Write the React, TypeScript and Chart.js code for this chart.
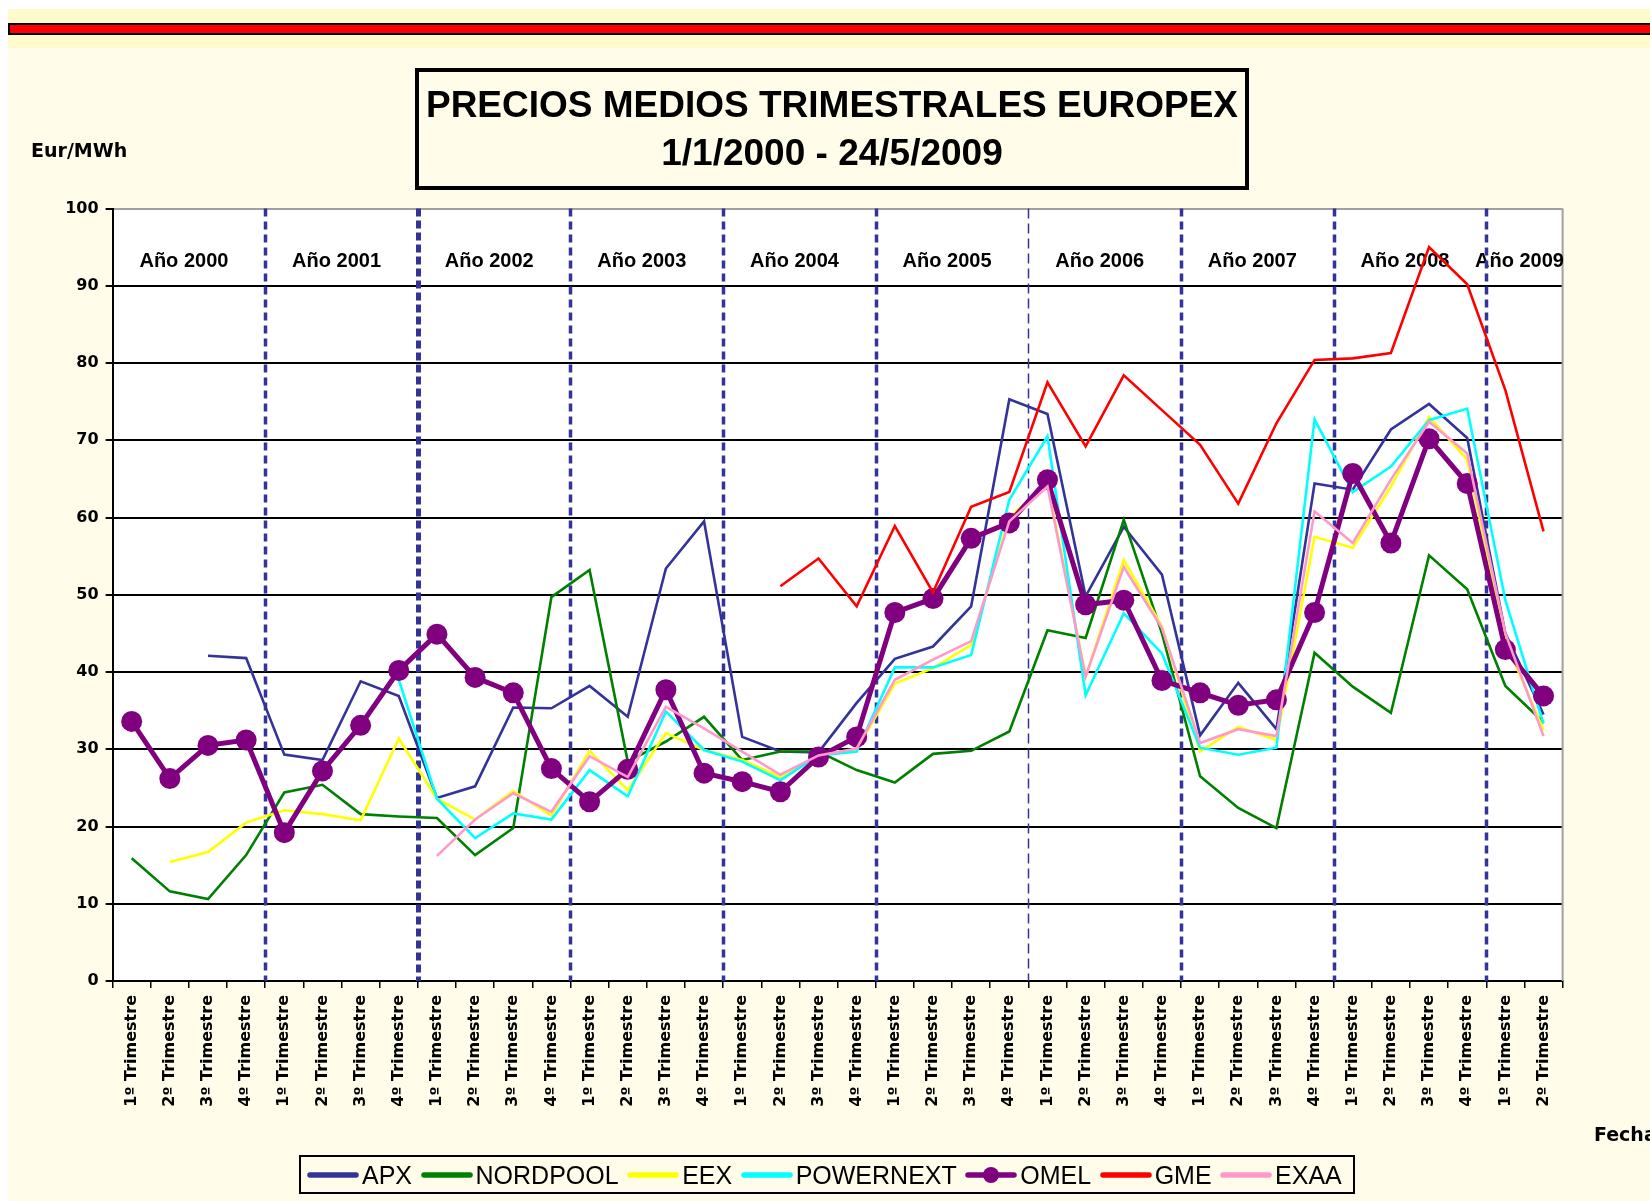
import React, { useEffect, useRef } from "react";
import { Chart, registerables } from "chart.js";

Chart.register(...registerables);

// ---- Data ----
const YEARS = ["Año 2000", "Año 2001", "Año 2002", "Año 2003", "Año 2004", "Año 2005", "Año 2006", "Año 2007", "Año 2008", "Año 2009"];
const QUARTERS_PER_YEAR = [4, 4, 4, 4, 4, 4, 4, 4, 4, 2];
const QUARTER_NAMES = ["1º Trimestre", "2º Trimestre", "3º Trimestre", "4º Trimestre"];
const CATEGORIES = QUARTERS_PER_YEAR.flatMap((n) => QUARTER_NAMES.slice(0, n));

const APX = [null, null, 42.1, 41.8, 29.3, 28.6, 38.8, 36.9, 23.7, 25.2, 35.4, 35.3, 38.2, 34.2, 53.4, 59.5, 31.6, 29.7, 29.6, 36.0, 41.7, 43.3, 48.5, 75.3, 73.4, 49.8, 58.8, 52.6, 31.8, 38.6, 32.6, 64.4, 63.6, 71.4, 74.7, 70.3, 45.0, 34.5];
const NORDPOOL = [15.9, 11.6, 10.6, 16.3, 24.4, 25.4, 21.6, 21.3, 21.1, 16.3, 19.8, 49.7, 53.2, 28.4, 31.0, 34.2, 28.6, 29.7, 29.7, 27.3, 25.7, 29.4, 29.8, 32.3, 45.4, 44.4, 59.7, 45.0, 26.5, 22.4, 19.8, 42.5, 38.1, 34.7, 55.1, 50.7, 38.2, 33.5];
const EEX = [null, 15.4, 16.7, 20.5, 22.1, 21.6, 20.8, 31.4, 23.6, 20.9, 24.6, 21.4, 29.8, 24.7, 32.1, 29.9, 28.6, 26.4, 29.2, 30.0, 38.5, 40.5, 43.5, 60.0, 64.5, 39.4, 54.5, 45.9, 29.7, 32.9, 31.2, 57.5, 56.1, 64.0, 73.0, 67.5, 44.0, 32.5];
const POWERNEXT = [null, null, null, null, null, null, null, 39.0, 23.6, 18.5, 21.7, 20.9, 27.3, 23.9, 34.9, 29.9, 28.4, 26.0, 29.2, 29.7, 40.6, 40.6, 42.2, 62.3, 70.5, 37.0, 47.6, 42.4, 30.2, 29.3, 30.2, 72.7, 63.3, 66.6, 72.6, 74.1, 49.3, 33.3];
const OMEL = [33.6, 26.2, 30.5, 31.2, 19.2, 27.2, 33.1, 40.2, 44.9, 39.3, 37.3, 27.5, 23.2, 27.4, 37.7, 26.9, 25.8, 24.5, 29.0, 31.6, 47.7, 49.5, 57.3, 59.3, 64.9, 48.7, 49.3, 38.9, 37.3, 35.7, 36.4, 47.7, 65.7, 56.7, 70.2, 64.4, 42.9, 36.9];
const GME = [null, null, null, null, null, null, null, null, null, null, null, null, null, null, null, null, null, 51.1, 54.7, 48.5, 58.9, 50.3, 61.4, 63.3, 77.5, 69.2, 78.4, 73.9, 69.4, 61.8, 72.2, 80.4, 80.6, 81.3, 95.0, 90.2, 76.5, 58.2];
const EXAA = [null, null, null, null, null, null, null, null, 16.2, 20.9, 24.3, 21.9, 29.1, 26.4, 35.5, 32.7, 29.7, 26.7, 29.2, 30.1, 39.0, 41.6, 44.0, 59.5, 64.0, 39.4, 53.6, 45.7, 30.8, 32.6, 31.7, 60.8, 56.7, 64.9, 72.4, 68.3, 45.0, 31.7];

const SERIES_NAMES = ["APX", "NORDPOOL", "EEX", "POWERNEXT", "OMEL", "GME", "EXAA"];
const SERIES_VALUES = [APX, NORDPOOL, EEX, POWERNEXT, OMEL, GME, EXAA];

const TITLE_LINES = ["PRECIOS MEDIOS TRIMESTRALES EUROPEX", "1/1/2000 - 24/5/2009"];
const Y_LABEL = "Eur/MWh";
const X_LABEL = "Fecha";

// ---- Styles ----
const SERIES_COLORS = ["#333399", "#008000", "#FFFF00", "#00FFFF", "#800080", "#FF0000", "#FF99CC"];
const YEAR_LINE_COLOR = "#333399";

const decorPlugin = {
  id: "decor",
  beforeDraw(chart: any) {
    const { ctx, chartArea: a } = chart;
    ctx.save();
    ctx.fillStyle = "#FFFFFF";
    ctx.fillRect(a.left, a.top, a.right - a.left, a.bottom - a.top);
    ctx.restore();
  },
  beforeDatasetsDraw(chart: any) {
    const { ctx, chartArea: a } = chart;
    const x = chart.scales.x;
    ctx.save();
    // right border of plot
    ctx.strokeStyle = "#A0A0A0";
    ctx.lineWidth = 2;
    ctx.beginPath();
    ctx.moveTo(a.right, a.top);
    ctx.lineTo(a.right, a.bottom);
    ctx.stroke();

    const step = x.getPixelForValue(1) - x.getPixelForValue(0);
    let start = 0;
    QUARTERS_PER_YEAR.forEach((n, yi) => {
      const left = x.getPixelForValue(start) - step / 2;
      const right = x.getPixelForValue(start + n - 1) + step / 2;
      // year label
      ctx.font = 'bold 20px "Liberation Sans", Arial, sans-serif';
      ctx.fillStyle = "#000";
      ctx.textAlign = "center";
      ctx.textBaseline = "middle";
      ctx.fillText(YEARS[yi], (left + right) / 2 - 5, a.top + 53);
      // boundary line (before this year)
      if (yi > 0) {
        ctx.strokeStyle = YEAR_LINE_COLOR;
        if (yi === 2) {
          ctx.lineWidth = 5;
          ctx.setLineDash([8, 4]);
        } else if (yi === 6) {
          ctx.lineWidth = 1.5;
          ctx.setLineDash([10, 5]);
        } else {
          ctx.lineWidth = 3.5;
          ctx.setLineDash([8, 5]);
        }
        ctx.beginPath();
        ctx.moveTo(Math.round(left) + 0.5, a.top);
        ctx.lineTo(Math.round(left) + 0.5, a.bottom);
        ctx.stroke();
      }
      start += n;
    });
    ctx.restore();
  },
};

const tickFont = { family: '"DejaVu Sans", Verdana, sans-serif', weight: "bold" as const, size: 16 };

export default function App() {
  const ref = useRef<HTMLCanvasElement>(null);

  useEffect(() => {
    if (!ref.current) return;
    const drawOrder = [6, 5, 4, 3, 2, 1, 0];
    const chart = new Chart(ref.current, {
      type: "line",
      data: {
        labels: CATEGORIES,
        datasets: SERIES_NAMES.map((name, i) => {
          const isOmel = name === "OMEL";
          return {
            label: name,
            data: SERIES_VALUES[i] as any,
            borderColor: SERIES_COLORS[i],
            backgroundColor: SERIES_COLORS[i],
            borderWidth: isOmel ? 5 : 2.6,
            pointRadius: isOmel ? 10.5 : 0,
            pointBorderWidth: 0,
            pointBackgroundColor: SERIES_COLORS[i],
            tension: 0,
            spanGaps: false,
            fill: false,
            order: drawOrder[i],
          };
        }),
      },
      options: {
        responsive: false,
        animation: false,
        devicePixelRatio: 1,
        layout: { padding: { left: 0, top: 208.5, right: 87.4, bottom: 70 } },
        plugins: {
          legend: { display: false },
          title: { display: false },
          tooltip: { enabled: false },
        },
        scales: {
          x: {
            type: "category",
            offset: true,
            grid: {
              offset: true,
              drawOnChartArea: false,
              drawTicks: true,
              tickLength: 7,
              color: "#000",
              lineWidth: 1.5,
            },
            border: { display: true, color: "#000", width: 2 },
            ticks: {
              autoSkip: false,
              maxRotation: 90,
              minRotation: 90,
              padding: 7,
              color: "#000",
              font: tickFont,
            },
            afterFit: (s: any) => {
              s.height = 150;
            },
          },
          y: {
            min: 0,
            max: 100,
            ticks: { stepSize: 10, padding: 7, color: "#000", font: tickFont },
            grid: {
              color: (c: any) => (c.tick && c.tick.value === 100 ? "#A0A0A0" : "#000"),
              tickColor: "#000",
              lineWidth: 2,
              tickLength: 7,
              drawTicks: true,
            },
            border: { display: true, color: "#000", width: 2 },
            afterFit: (s: any) => {
              s.width = 112.6;
            },
          },
        },
      },
      plugins: [decorPlugin],
    });
    return () => chart.destroy();
  }, []);

  return (
    <div style={{ position: "absolute", left: 0, top: 0, width: 1650, height: 1201, background: "#FFFFFF", overflow: "hidden" }}>
      <div style={{ position: "absolute", left: 8, top: 9, right: 0, bottom: 0, background: "#FFFDE9" }} />
      <div style={{ position: "absolute", left: 8, top: 9, right: 0, height: 39, background: "#FFFBCC" }} />
      <div style={{ position: "absolute", left: 8, top: 22.5, right: 0, height: 12, background: "#000000" }} />
      <div style={{ position: "absolute", left: 9.5, top: 24.5, right: 0, height: 8, background: "#FF0000" }} />
      <canvas ref={ref} width={1650} height={1201} style={{ position: "absolute", left: 0, top: 0, width: 1650, height: 1201 }} />
      <div
        style={{
          position: "absolute",
          left: 415,
          top: 68,
          width: 834,
          height: 122,
          boxSizing: "border-box",
          border: "4px solid #000",
          paddingTop: 9,
          textAlign: "center",
          fontFamily: '"Liberation Sans", Arial, sans-serif',
          fontWeight: "bold",
          fontSize: 37,
          lineHeight: "48px",
          color: "#000",
        }}
      >
        {TITLE_LINES.map((t) => (
          <div key={t}>{t}</div>
        ))}
      </div>
      <div
        style={{
          position: "absolute",
          left: 31,
          top: 138,
          fontFamily: '"DejaVu Sans", Verdana, sans-serif',
          fontWeight: "bold",
          fontSize: 19,
          lineHeight: "24px",
          color: "#000",
          whiteSpace: "nowrap",
        }}
      >
        {Y_LABEL}
      </div>
      <div
        style={{
          position: "absolute",
          left: 1594,
          top: 1122,
          fontFamily: '"DejaVu Sans", Verdana, sans-serif',
          fontWeight: "bold",
          fontSize: 19,
          lineHeight: "24px",
          color: "#000",
          whiteSpace: "nowrap",
        }}
      >
        {X_LABEL}
      </div>
      <div
        style={{
          position: "absolute",
          left: 299,
          top: 1155,
          width: 1056,
          height: 39,
          boxSizing: "border-box",
          border: "2px solid #000",
          display: "flex",
          alignItems: "center",
          paddingLeft: 6,
          fontFamily: '"Liberation Sans", Arial, sans-serif',
          fontSize: 25,
          color: "#000",
          whiteSpace: "nowrap",
        }}
      >
        {SERIES_NAMES.map((name, i) => (
          <div key={name} style={{ display: "flex", alignItems: "center", marginRight: 8.5 }}>
            <svg width={52} height={20} style={{ marginRight: 3, display: "block" }}>
              <line x1={3} y1={10} x2={49} y2={10} stroke={SERIES_COLORS[i]} strokeWidth={5.5} strokeLinecap="round" />
              {name === "OMEL" ? <circle cx={26} cy={10} r={8} fill={SERIES_COLORS[i]} /> : null}
            </svg>
            <span style={{ lineHeight: "30px" }}>{name}</span>
          </div>
        ))}
      </div>
    </div>
  );
}
